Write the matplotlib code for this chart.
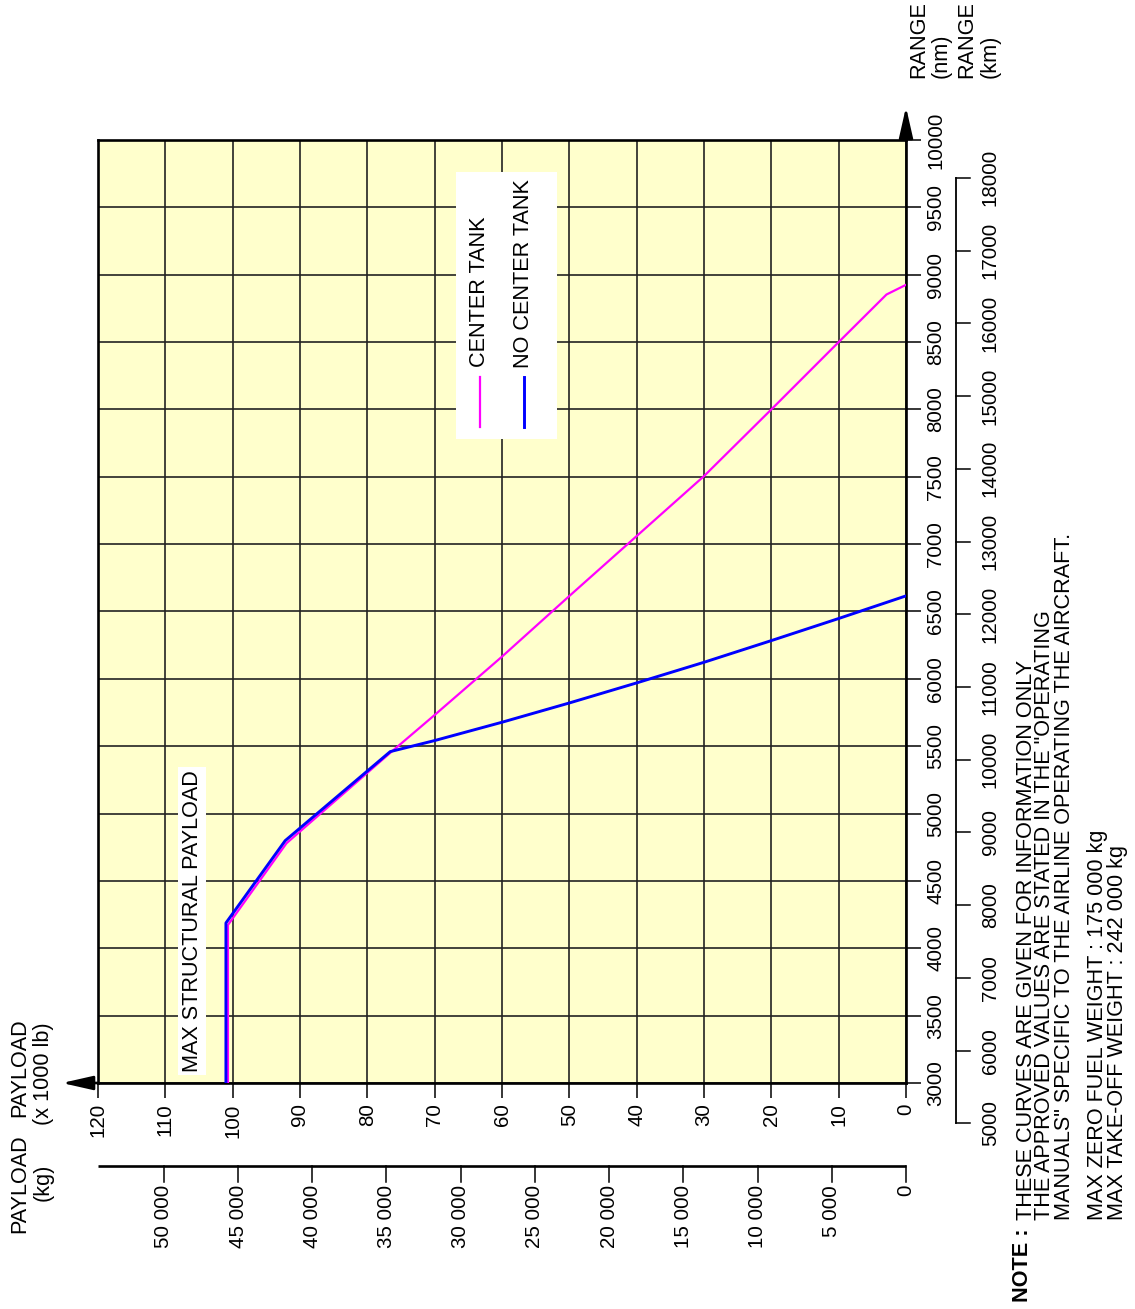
import numpy as np
import matplotlib
matplotlib.use('Agg')
from matplotlib import pyplot as plt
from matplotlib.patches import Rectangle

plt.rcParams['font.family'] = ['Liberation Sans', 'DejaVu Sans']

# payload in 1000 lb, range in nm
center_payload = [100.7, 100.7, 92.0, 76.5, 70, 60, 50, 40, 30, 20, 10, 2.9, 0]
center_range = [3000, 4173, 4780, 5455, 5732, 6165, 6615, 7060, 7505, 8000, 8500, 8853, 8925]

nocenter_payload = [101.0, 101.0, 92.2, 76.6, 70, 60, 50, 40, 30, 20, 10, 0]
nocenter_range = [3000, 4188, 4799, 5460, 5542, 5678, 5821, 5970, 6123, 6284, 6448, 6616]

lb_ticks = np.arange(0, 130, 10)
nm_ticks = np.arange(3000, 10500, 500)
kg_ticks = np.arange(0, 55000, 5000)
km_ticks = np.arange(5000, 19000, 1000)

LB_PER_KG = 2.20462
KM_PER_NM = 1.852

W, H = 1135, 1309
fig = plt.figure(figsize=(W / 100, H / 100), dpi=100)
ax = fig.add_axes([98 / W, 1 - 1083 / H, 808 / W, 943 / H])
ax.set_facecolor('#FFFFCC')
ax.set_xlim(120, 0)
ax.set_ylim(3000, 10000)

fs = 15.6
tfs = 14.8

# grid and frame
ax.set_xticks(lb_ticks, labels=[str(v) for v in lb_ticks])
ax.set_yticks(nm_ticks, labels=[str(v) for v in nm_ticks])
ax.yaxis.tick_right()
ax.grid(True, color='#222222', lw=1.2)
ax.tick_params(axis='both', direction='out', length=11, width=1.1, pad=3.5, labelsize=tfs)
for lbl in ax.get_xticklabels():
    lbl.set_rotation(90)
for lbl in ax.get_yticklabels():
    lbl.set_rotation(90)
    lbl.set_va('center')
for s in ax.spines.values():
    s.set_linewidth(1.9)

# curves
ax.plot(center_payload, center_range, color='#FF00FF', lw=1.6, zorder=4)
ax.plot(nocenter_payload, nocenter_range, color='#0000FF', lw=2.1, zorder=5)

# axis arrows
arrow = dict(arrowstyle='-|>,head_length=0.75,head_width=0.17', color='black',
             lw=1.9, mutation_scale=25, shrinkA=0, shrinkB=0)
ax.annotate('', xy=(125.35, 3000), xytext=(120, 3000), arrowprops=arrow,
            annotation_clip=False)
ax.annotate('', xy=(0, 10245), xytext=(0, 10000), arrowprops=arrow,
            annotation_clip=False)

# kg scale under the lb scale
y_kg = 2384
ax.plot([120, 0], [y_kg, y_kg], color='black', lw=1.9, clip_on=False,
        solid_capstyle='butt')
for kg in kg_ticks:
    x = kg * LB_PER_KG / 1000
    ax.plot([x, x], [y_kg, 2265], color='black', lw=1.1, clip_on=False)
    ax.text(x, 2243, f'{kg:,}'.replace(',', ' '), rotation=90, ha='center',
            va='top', fontsize=tfs)

# km scale right of the nm scale
x_km = -7.38
ax.plot([x_km, x_km], [km_ticks[0] / KM_PER_NM, km_ticks[-1] / KM_PER_NM],
        color='black', lw=1.3, clip_on=False)
for km in km_ticks:
    y = km / KM_PER_NM
    ax.plot([x_km, -9.5], [y, y], color='black', lw=1.1, clip_on=False)
    ax.text(-11.1, y, str(km), rotation=90, ha='left', va='center', fontsize=tfs)

# labels inside the chart
ax.text(106.0, 3082, 'MAX STRUCTURAL PAYLOAD', rotation=90, ha='center',
        va='bottom', fontsize=fs, zorder=6,
        bbox=dict(fc='white', ec='none', pad=2.5))

ax.add_patch(Rectangle((51.8, 7781), 15.0, 1982, fc='white', ec='none', zorder=3))
ax.plot([63.3, 63.3], [7870, 8241], color='#FF00FF', lw=1.6, zorder=4)
ax.plot([56.7, 56.7], [7870, 8241], color='#0000FF', lw=2.1, zorder=4)
ax.text(63.4, 8315, 'CENTER TANK', rotation=90, ha='center', va='bottom',
        fontsize=fs, zorder=4)
ax.text(56.8, 8308, 'NO CENTER TANK', rotation=90, ha='center', va='bottom',
        fontsize=fs, zorder=4)


def ftext(x, y, s, **kw):
    fig.text(x / W, 1 - y / H, s, rotation=90, fontsize=fs, **kw)


# axis titles
ftext(919, 78, 'RANGE', ha='center', va='bottom')
ftext(941, 78, '(nm)', ha='center', va='bottom')
ftext(967, 78, 'RANGE', ha='center', va='bottom')
ftext(990, 78, '(km)', ha='center', va='bottom')

ftext(20, 1068, 'PAYLOAD', ha='center', va='center')
ftext(43, 1074, '(x 1000 lb)', ha='center', va='center')
ftext(20, 1184, 'PAYLOAD', ha='center', va='center')
ftext(43, 1182, '(kg)', ha='center', va='center')

# note
ftext(1023, 1302, 'NOTE :', ha='center', va='bottom', fontweight='bold')
note = ['THESE CURVES ARE GIVEN FOR INFORMATION ONLY',
        'THE APPROVED VALUES ARE STATED IN THE "OPERATING',
        'MANUALS" SPECIFIC TO THE AIRLINE OPERATING THE AIRCRAFT.',
        'MAX ZERO FUEL WEIGHT : 175 000 kg',
        'MAX TAKE-OFF WEIGHT : 242 000 kg']
note_x = [1026, 1045, 1065, 1098, 1118]
for s, x in zip(note, note_x):
    ftext(x, 1220, s, ha='center', va='bottom')

fig.savefig('out.png', dpi=100, facecolor='white')
